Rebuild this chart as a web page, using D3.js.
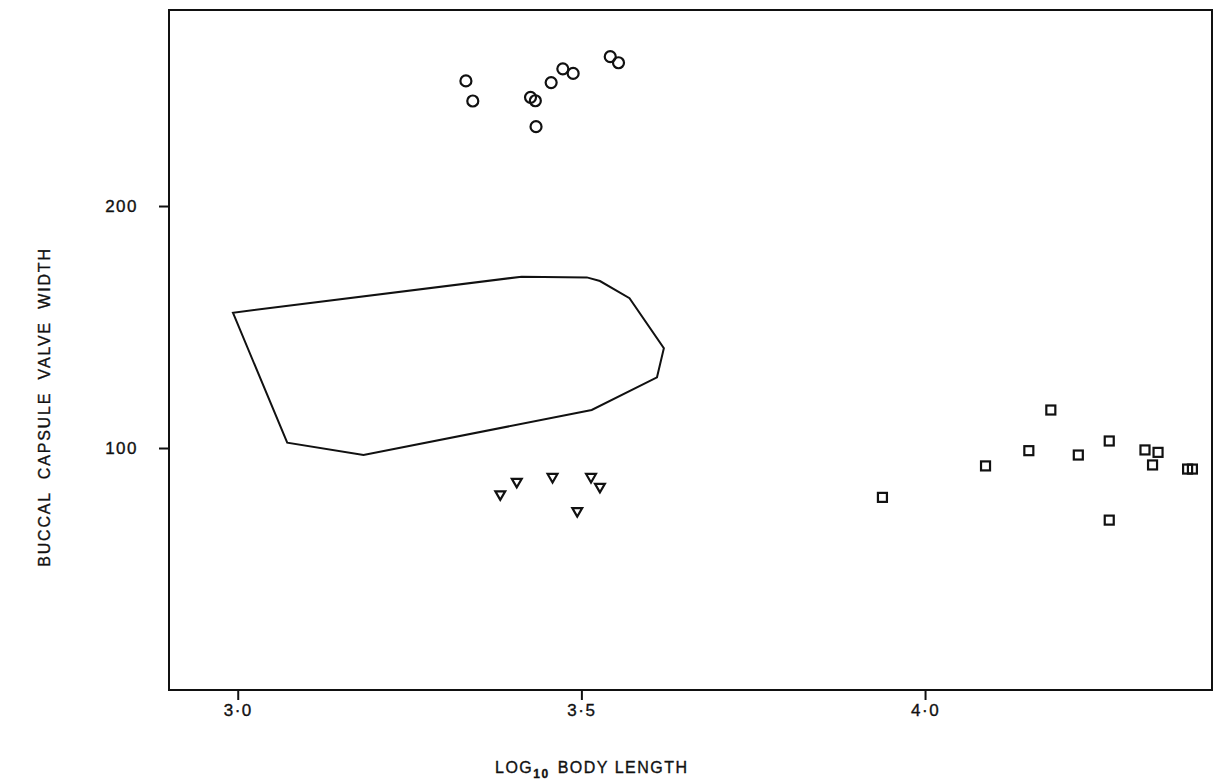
<!DOCTYPE html>
<html>
<head>
<meta charset="utf-8">
<script src="https://cdn.jsdelivr.net/npm/d3@7"></script>
<style>
  body { margin: 0; background: #fff; }
  svg { display: block; }
  text { font-family: "Liberation Sans", Arial, sans-serif; fill: #111; stroke: #111; stroke-width: 0.35px; }
</style>
</head>
<body>
<div id="chart"></div>
<script>
/* global d3 */

const w = 1213
const h = 783

// circles: [log10 body length, buccal capsule valve width]
const circles = [
  [3.332, 251.7], [3.342, 243.4], [3.426, 244.9], [3.433, 243.5], [3.434, 232.8],
  [3.456, 251.0], [3.473, 256.7], [3.488, 254.8], [3.542, 261.7], [3.554, 259.2]
]
const triangles = [
  [3.382, 80.9], [3.406, 86.1], [3.458, 88.1], [3.514, 88.1], [3.527, 84.0], [3.494, 74.0]
]
const squares = [
  [3.938, 79.6], [4.088, 92.6], [4.151, 98.9], [4.183, 115.7], [4.223, 97.1],
  [4.268, 102.9], [4.268, 70.2], [4.320, 99.2], [4.339, 98.2], [4.331, 93.0],
  [4.382, 91.3], [4.389, 91.3]
]
// outline of the enclosed group
const hull = [
  [2.993, 155.9], [3.072, 102.2], [3.183, 97.1], [3.515, 115.7], [3.610, 129.2],
  [3.620, 141.2], [3.570, 161.9], [3.527, 169.0], [3.508, 170.5], [3.413, 170.8]
]

const xTicks = [3.0, 3.5, 4.0]
const yTicks = [100, 200]

const m = { top: 10, left: 169, right: 1, bottom: 93 }

const x = d3.scaleLinear().domain([2.9, 4.4175]).range([m.left, w - m.right])
const y = d3.scaleLinear().domain([0, 281]).range([h - m.bottom, m.top])

const svg = d3.select('#chart').append('svg')
  .attr('width', w)
  .attr('height', h)

// frame
svg.append('rect')
  .attr('x', x.range()[0])
  .attr('y', y.range()[1])
  .attr('width', x.range()[1] - x.range()[0])
  .attr('height', y.range()[0] - y.range()[1])
  .attr('fill', 'none')
  .attr('stroke', '#111')
  .attr('stroke-width', 2)

const xAxis = d3.axisBottom(x)
  .tickValues(xTicks)
  .tickSize(10)
  .tickSizeOuter(0)
  .tickPadding(4)
  .tickFormat(d => d3.format('.1f')(d).replace('.', '·'))

const yAxis = d3.axisLeft(y)
  .tickValues(yTicks)
  .tickSize(10)
  .tickSizeOuter(0)
  .tickPadding(21)

const $xAxis = svg.append('g')
  .attr('transform', `translate(0, ${y.range()[0]})`)
  .call(xAxis)

const $yAxis = svg.append('g')
  .attr('transform', `translate(${x.range()[0]}, 0)`)
  .call(yAxis)

for (const g of [$xAxis, $yAxis]) {
  g.select('.domain').remove()
  g.selectAll('.tick line').attr('stroke', '#111').attr('stroke-width', 2)
  g.selectAll('.tick text')
    .attr('fill', '#111')
    .style('font-size', '17px')
    .style('letter-spacing', '1.5px')
}

// hull outline
svg.append('path')
  .datum(hull)
  .attr('d', d3.line().x(d => x(d[0])).y(d => y(d[1])).curve(d3.curveLinearClosed))
  .attr('fill', 'none')
  .attr('stroke', '#111')
  .attr('stroke-width', 2)

svg.append('g').selectAll('circle')
  .data(circles)
  .join('circle')
  .attr('cx', d => x(d[0]))
  .attr('cy', d => y(d[1]))
  .attr('r', 5.5)
  .attr('fill', 'none')
  .attr('stroke', '#111')
  .attr('stroke-width', 2.2)

const tri = d3.symbol().type(d3.symbolTriangle).size(42)
svg.append('g').selectAll('path')
  .data(triangles)
  .join('path')
  .attr('d', tri)
  .attr('transform', d => `translate(${x(d[0])}, ${y(d[1])}) rotate(180)`)
  .attr('fill', 'none')
  .attr('stroke', '#111')
  .attr('stroke-width', 2.2)

svg.append('g').selectAll('rect')
  .data(squares)
  .join('rect')
  .attr('x', d => x(d[0]) - 4.5)
  .attr('y', d => y(d[1]) - 4.5)
  .attr('width', 9)
  .attr('height', 9)
  .attr('fill', 'none')
  .attr('stroke', '#111')
  .attr('stroke-width', 2.2)

// axis titles
const xt = svg.append('text')
  .attr('x', 495)
  .attr('y', 773)
  .style('font-size', '16px')
  .style('letter-spacing', '1.5px')
xt.append('tspan').text('LOG')
xt.append('tspan').attr('dy', 5).style('font-size', '12px').style('font-weight', 'bold').text('10')
xt.append('tspan').attr('dy', -5).attr('dx', 8).text('BODY  LENGTH')

svg.append('text')
  .attr('transform', `translate(50, 407) rotate(-90)`)
  .attr('text-anchor', 'middle')
  .style('font-size', '16px')
  .style('letter-spacing', '1.8px')
  .style('white-space', 'pre')
  .text('BUCCAL  CAPSULE  VALVE  WIDTH')
</script>
</body>
</html>
